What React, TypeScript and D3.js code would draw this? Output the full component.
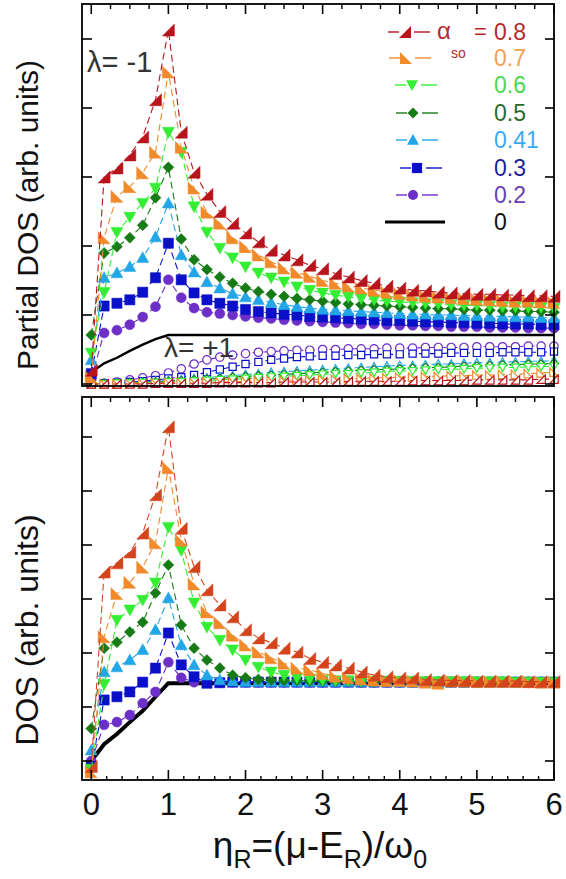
import React from 'react';
import * as d3 from 'd3';

// ---------- DATA ----------
const eta = [0, 0.167, 0.333, 0.5, 0.667, 0.833, 1, 1.167, 1.333, 1.5, 1.667, 1.833, 2, 2.167, 2.333, 2.5, 2.667, 2.833, 3, 3.167, 3.333, 3.5, 3.667, 3.833, 4, 4.167, 4.333, 4.5, 4.667, 4.833, 5, 5.167, 5.333, 5.5, 5.667, 5.833, 6];
const alphaLabels = ['0.8', '0.7', '0.6', '0.5', '0.41', '0.3', '0.2'];
const xTickLabels = ['0', '1', '2', '3', '4', '5', '6'];

// Partial DOS, lambda = -1 (filled markers)
const pMinus08 = [0.2, 3.0, 3.13, 3.32, 3.58, 4.12, 5.13, 3.65, 3.07, 2.75, 2.5, 2.33, 2.19, 2.06, 1.94, 1.87, 1.8, 1.72, 1.67, 1.6, 1.55, 1.5, 1.46, 1.42, 1.39, 1.36, 1.35, 1.33, 1.32, 1.31, 1.3, 1.3, 1.29, 1.29, 1.28, 1.28, 1.27];
const pMinus07 = [0.1, 2.12, 2.72, 2.86, 3.06, 3.36, 4.52, 3.43, 2.84, 2.49, 2.33, 2.12, 1.99, 1.87, 1.77, 1.68, 1.62, 1.56, 1.5, 1.46, 1.42, 1.39, 1.36, 1.33, 1.31, 1.29, 1.27, 1.26, 1.25, 1.24, 1.23, 1.22, 1.21, 1.2, 1.2, 1.19, 1.18];
const pMinus06 = [0.45, 1.33, 2.2, 2.42, 2.62, 2.84, 3.65, 3.36, 2.57, 2.2, 1.97, 1.83, 1.7, 1.61, 1.54, 1.48, 1.41, 1.36, 1.32, 1.29, 1.26, 1.24, 1.22, 1.2, 1.19, 1.18, 1.17, 1.16, 1.15, 1.14, 1.14, 1.13, 1.12, 1.12, 1.11, 1.11, 1.1];
const pMinus05 = [0.71, 1.9, 1.99, 2.12, 2.3, 2.7, 3.14, 2.1, 1.8, 1.66, 1.55, 1.46, 1.39, 1.34, 1.3, 1.27, 1.24, 1.22, 1.2, 1.18, 1.16, 1.15, 1.14, 1.13, 1.12, 1.11, 1.1, 1.09, 1.09, 1.08, 1.07, 1.07, 1.06, 1.06, 1.05, 1.05, 1.04];
const pMinus041 = [0.35, 1.54, 1.61, 1.7, 1.83, 2.13, 2.62, 1.87, 1.62, 1.48, 1.39, 1.31, 1.26, 1.22, 1.18, 1.15, 1.12, 1.1, 1.08, 1.07, 1.06, 1.05, 1.04, 1.03, 1.02, 1.01, 1.01, 1.0, 1.0, 0.99, 0.99, 0.98, 0.98, 0.97, 0.97, 0.96, 0.96];
const pMinus03 = [0.15, 1.13, 1.17, 1.22, 1.33, 1.54, 2.04, 1.51, 1.32, 1.22, 1.17, 1.13, 1.08, 1.05, 1.03, 1.01, 1.0, 0.98, 0.97, 0.96, 0.95, 0.94, 0.93, 0.92, 0.92, 0.91, 0.9, 0.9, 0.89, 0.89, 0.88, 0.88, 0.87, 0.87, 0.87, 0.86, 0.86];
const pMinus02 = [0.08, 0.74, 0.78, 0.86, 0.97, 1.12, 1.51, 1.25, 1.1, 1.04, 1.02, 1.0, 0.98, 0.96, 0.95, 0.93, 0.92, 0.91, 0.9, 0.89, 0.88, 0.87, 0.87, 0.86, 0.85, 0.85, 0.84, 0.84, 0.83, 0.83, 0.83, 0.82, 0.82, 0.82, 0.81, 0.81, 0.81];

// Partial DOS, lambda = +1 (open markers)
const pPlus08 = [0, 0, 0, 0, 0, 0.01, 0.01, 0.01, 0.01, 0.01, 0.02, 0.02, 0.02, 0.02, 0.02, 0.03, 0.03, 0.03, 0.03, 0.03, 0.04, 0.04, 0.04, 0.04, 0.04, 0.05, 0.05, 0.05, 0.05, 0.05, 0.06, 0.06, 0.06, 0.06, 0.06, 0.07, 0.07];
const pPlus07 = [0, 0, 0, 0.01, 0.01, 0.01, 0.02, 0.02, 0.02, 0.03, 0.03, 0.03, 0.04, 0.04, 0.05, 0.05, 0.06, 0.06, 0.07, 0.07, 0.08, 0.08, 0.09, 0.09, 0.1, 0.1, 0.11, 0.11, 0.12, 0.12, 0.13, 0.13, 0.14, 0.14, 0.15, 0.16, 0.17];
const pPlus06 = [0, 0, 0.01, 0.01, 0.02, 0.02, 0.03, 0.03, 0.04, 0.05, 0.06, 0.07, 0.08, 0.09, 0.1, 0.11, 0.12, 0.13, 0.14, 0.15, 0.15, 0.16, 0.17, 0.18, 0.19, 0.19, 0.2, 0.21, 0.21, 0.22, 0.23, 0.23, 0.24, 0.24, 0.25, 0.25, 0.26];
const pPlus05 = [0, 0.01, 0.01, 0.02, 0.02, 0.03, 0.04, 0.05, 0.06, 0.07, 0.08, 0.1, 0.11, 0.12, 0.13, 0.14, 0.15, 0.16, 0.17, 0.18, 0.19, 0.2, 0.21, 0.21, 0.22, 0.23, 0.24, 0.24, 0.25, 0.26, 0.26, 0.27, 0.28, 0.28, 0.29, 0.29, 0.3];
const pPlus041 = [0, 0.01, 0.01, 0.02, 0.03, 0.04, 0.05, 0.06, 0.08, 0.09, 0.11, 0.12, 0.14, 0.15, 0.17, 0.18, 0.19, 0.2, 0.21, 0.22, 0.23, 0.24, 0.25, 0.26, 0.27, 0.27, 0.28, 0.29, 0.29, 0.3, 0.31, 0.31, 0.32, 0.32, 0.33, 0.33, 0.34];
const pPlus03 = [0, 0.01, 0.02, 0.03, 0.04, 0.06, 0.08, 0.1, 0.13, 0.17, 0.21, 0.25, 0.29, 0.32, 0.35, 0.37, 0.39, 0.4, 0.41, 0.41, 0.42, 0.42, 0.43, 0.43, 0.43, 0.44, 0.44, 0.44, 0.45, 0.45, 0.45, 0.45, 0.46, 0.46, 0.46, 0.46, 0.47];
const pPlus02 = [0, 0.01, 0.03, 0.06, 0.09, 0.12, 0.16, 0.22, 0.29, 0.35, 0.39, 0.42, 0.44, 0.46, 0.47, 0.48, 0.49, 0.49, 0.5, 0.5, 0.51, 0.51, 0.51, 0.52, 0.52, 0.52, 0.53, 0.53, 0.53, 0.53, 0.54, 0.54, 0.54, 0.54, 0.55, 0.55, 0.55];

// alpha_so = 0 curves (solid black)
const blackEta = [0, 0.167, 0.333, 0.5, 0.667, 0.833, 1, 6];
const pBlack = [0.17, 0.3, 0.38, 0.48, 0.57, 0.65, 0.71, 0.71];
const dosBlack = [0.0, 0.31, 0.5, 0.72, 0.93, 1.19, 1.44, 1.44];

// total DOS
const dos08 = [-0.1, 3.5, 3.67, 3.87, 4.22, 4.93, 6.19, 4.31, 3.6, 3.17, 2.89, 2.67, 2.43, 2.28, 2.19, 2.09, 2.02, 1.9, 1.83, 1.78, 1.72, 1.65, 1.59, 1.56, 1.54, 1.54, 1.51, 1.5, 1.49, 1.49, 1.48, 1.48, 1.48, 1.48, 1.47, 1.47, 1.47];
const dos07 = [-0.2, 2.3, 3.1, 3.31, 3.59, 4.04, 5.43, 4.09, 3.28, 2.76, 2.56, 2.33, 2.15, 2.02, 1.91, 1.81, 1.72, 1.69, 1.62, 1.57, 1.54, 1.52, 1.5, 1.49, 1.49, 1.48, 1.46, 1.44, 1.48, 1.48, 1.47, 1.47, 1.47, 1.47, 1.47, 1.46, 1.46];
const dos06 = [-0.15, 1.42, 2.61, 2.8, 2.98, 3.3, 4.33, 3.9, 2.93, 2.48, 2.24, 2.06, 1.87, 1.74, 1.65, 1.59, 1.54, 1.52, 1.5, 1.49, 1.49, 1.48, 1.48, 1.48, 1.48, 1.48, 1.47, 1.47, 1.47, 1.47, 1.47, 1.47, 1.47, 1.46, 1.46, 1.46, 1.46];
const dos05 = [0.6, 2.09, 2.2, 2.39, 2.57, 3.11, 3.63, 2.52, 2.09, 1.87, 1.72, 1.59, 1.54, 1.51, 1.5, 1.49, 1.49, 1.48, 1.48, 1.48, 1.48, 1.47, 1.47, 1.47, 1.47, 1.47, 1.47, 1.47, 1.46, 1.46, 1.46, 1.46, 1.46, 1.46, 1.46, 1.46, 1.46];
const dos041 = [0.2, 1.65, 1.74, 1.87, 2.06, 2.43, 3.02, 2.15, 1.78, 1.59, 1.5, 1.48, 1.47, 1.47, 1.47, 1.47, 1.47, 1.47, 1.47, 1.47, 1.47, 1.47, 1.47, 1.47, 1.46, 1.46, 1.46, 1.46, 1.46, 1.46, 1.46, 1.46, 1.46, 1.46, 1.46, 1.46, 1.46];
const dos03 = [-0.1, 1.13, 1.19, 1.28, 1.46, 1.72, 2.37, 1.78, 1.56, 1.44, 1.45, 1.46, 1.46, 1.46, 1.46, 1.46, 1.46, 1.46, 1.46, 1.46, 1.46, 1.46, 1.46, 1.46, 1.46, 1.46, 1.46, 1.46, 1.46, 1.46, 1.46, 1.46, 1.46, 1.46, 1.46, 1.46, 1.46];
const dos02 = [0, 0.67, 0.72, 0.85, 1.07, 1.28, 1.83, 1.54, 1.46, 1.45, 1.45, 1.46, 1.46, 1.46, 1.46, 1.46, 1.46, 1.46, 1.46, 1.46, 1.46, 1.46, 1.46, 1.46, 1.46, 1.46, 1.46, 1.46, 1.46, 1.46, 1.46, 1.46, 1.46, 1.46, 1.46, 1.46, 1.46];

// ---------- STYLE ----------
const FONT = "'Liberation Sans', Arial, sans-serif";
type Shape = 'triBR' | 'triBL' | 'down' | 'diamond' | 'up' | 'square' | 'circle';
const seriesStyle: { shape: Shape; color: string; botColor: string; text: string }[] = [
  { shape: 'triBR', color: '#b8141c', botColor: '#d4441c', text: '#b52a2a' },
  { shape: 'triBL', color: '#f08a2a', botColor: '#f08a2a', text: '#f0a050' },
  { shape: 'down', color: '#33ee33', botColor: '#33ee33', text: '#4ad94a' },
  { shape: 'diamond', color: '#167a16', botColor: '#167a16', text: '#2c6a2c' },
  { shape: 'up', color: '#22a6e6', botColor: '#22a6e6', text: '#3aaaf0' },
  { shape: 'square', color: '#0a10c8', botColor: '#0a10c8', text: '#1e1e9a' },
  { shape: 'circle', color: '#6c2fc8', botColor: '#6c2fc8', text: '#6a40b0' },
];
const minusSeries = [pMinus08, pMinus07, pMinus06, pMinus05, pMinus041, pMinus03, pMinus02];
const plusSeries = [pPlus08, pPlus07, pPlus06, pPlus05, pPlus041, pPlus03, pPlus02];
const dosSeries = [dos08, dos07, dos06, dos05, dos041, dos03, dos02];

function markerPath(shape: Shape, r: number): string {
  switch (shape) {
    case 'triBR': return `M${r},${-r}L${r},${r}L${-r},${r}Z`;
    case 'triBL': return `M${-r},${-r}L${-r},${r}L${r},${r}Z`;
    case 'down': return `M${-r},${-0.8 * r}L${r},${-0.8 * r}L0,${r}Z`;
    case 'up': return `M0,${-r}L${r},${0.8 * r}L${-r},${0.8 * r}Z`;
    case 'diamond': return `M0,${-r}L${r},0L0,${r}L${-r},0Z`;
    case 'square': { const s = r * 0.85; return `M${-s},${-s}L${s},${-s}L${s},${s}L${-s},${s}Z`; }
    case 'circle': return `M${-r},0A${r},${r} 0 1,0 ${r},0A${r},${r} 0 1,0 ${-r},0Z`;
  }
  return '';
}

const xLeft = 82, xRight = 554;
const topP = { top: 4, bottom: 386 };
const botP = { top: 397, bottom: 780 };

export default function App() {
  const x = d3.scaleLinear().domain([-0.12, 6]).range([xLeft, xRight]);
  const yT = d3.scaleLinear().domain([0, 5]).range([384, 39]);
  const yB = d3.scaleLinear().domain([0, 6]).range([761, 437]);

  const lineT = d3.line<number>().x((_, i) => x(eta[i])).y(d => yT(d));
  const lineB = d3.line<number>().x((_, i) => x(eta[i])).y(d => yB(d));
  const blackT = d3.line<number>().x((_, i) => x(blackEta[i])).y(d => yT(d));
  const blackB = d3.line<number>().x((_, i) => x(blackEta[i])).y(d => yB(d));

  const majors = d3.range(0, 7, 1);
  const minors25 = d3.range(0, 6.001, 0.25).filter(v => Math.abs(v - Math.round(v)) > 1e-6);
  const minors20 = d3.range(0, 6.001, 0.2).filter(v => Math.abs(v - Math.round(v)) > 1e-6);

  const frame = (p: { top: number; bottom: number }) => (
    <rect x={xLeft} y={p.top} width={xRight - xLeft} height={p.bottom - p.top} fill="none" stroke="#000" strokeWidth={1.8} />
  );

  const drawSeries = (data: number[], line: any, idx: number, open: boolean, bottom: boolean, key: string) => {
    const st = seriesStyle[idx];
    const col = bottom ? st.botColor : st.color;
    const y = bottom ? yB : yT;
    const r = open ? 4.2 : (st.shape === 'circle' ? 5 : st.shape === 'diamond' ? 5.5 : 6);
    return (
      <g key={key}>
        <path d={line(data)} fill="none" stroke={col} strokeWidth={1.1} strokeDasharray="7,4" />
        {data.map((v, i) => (
          <path key={i} d={markerPath(st.shape, r)} transform={`translate(${x(eta[i])},${y(v)})`}
            fill={open ? '#fff' : col} stroke={col} strokeWidth={open ? 1.2 : 0.5} />
        ))}
      </g>
    );
  };

  const order = [6, 5, 4, 3, 2, 1, 0];

  const legendRows = [32, 58, 85, 113, 140, 168, 195];
  const legendMx = [405, 406, 412, 413, 413, 417, 413];

  return (
    <svg width={566} height={879} style={{ position: 'absolute', left: 0, top: 0, background: '#fff' }} fontFamily={FONT}>
      <rect x={0} y={0} width={566} height={879} fill="#fff" />

      {/* ---------- TOP PANEL ---------- */}
      {order.map(i => drawSeries(plusSeries[i], lineT, i, true, false, 'p' + i))}
      <path d={blackT(pBlack) || ''} fill="none" stroke="#000" strokeWidth={2.4} />
      {order.map(i => drawSeries(minusSeries[i], lineT, i, false, false, 'm' + i))}
      {frame(topP)}
      {majors.map(v => <line key={'tM' + v} x1={x(v)} x2={x(v)} y1={topP.top} y2={topP.top + 10} stroke="#000" strokeWidth={1.6} />)}
      {minors25.map(v => <line key={'tm' + v} x1={x(v)} x2={x(v)} y1={topP.top} y2={topP.top + 5} stroke="#000" strokeWidth={1.4} />)}
      {d3.range(0, 6).map(v => (
        <g key={'ty' + v}>
          <line x1={xLeft} x2={xLeft + 10} y1={yT(v)} y2={yT(v)} stroke="#000" strokeWidth={1.6} />
          <line x1={xRight - 9} x2={xRight} y1={yT(v)} y2={yT(v)} stroke="#000" strokeWidth={1.6} />
        </g>
      ))}
      <text x={87} y={72} fontSize={29} fill="#333">λ= -1</text>
      <text x={164} y={357} fontSize={28} fill="#333">λ= +1</text>

      {/* legend */}
      {seriesStyle.map((st, i) => {
        const mx = legendMx[i], ly = legendRows[i];
        const r = st.shape === 'circle' ? 5 : st.shape === 'diamond' ? 5.5 : 6;
        return (
          <g key={'lg' + i}>
            <line x1={mx - 17} x2={mx - 6} y1={ly} y2={ly} stroke={st.color} strokeWidth={1.4} />
            <line x1={mx + 9} x2={mx + 25} y1={ly} y2={ly} stroke={st.color} strokeWidth={1.4} />
            <path d={markerPath(st.shape, r)} transform={`translate(${mx},${ly})`} fill={st.color} />
            <text x={494} y={ly + 8} fontSize={23} fill={st.text}>{alphaLabels[i]}</text>
          </g>
        );
      })}
      <line x1={385} x2={445} y1={222} y2={222} stroke="#000" strokeWidth={3} />
      <text x={494} y={230} fontSize={23} fill="#111">0</text>
      <text x={437} y={39} fontSize={24} fill="#b52a2a">α</text>
      <text x={451} y={58} fontSize={14} fill="#b52a2a">so</text>
      <text x={474} y={39} fontSize={22} fill="#b52a2a">=</text>

      {/* ---------- BOTTOM PANEL ---------- */}
      <path d={blackB(dosBlack) || ''} fill="none" stroke="#000" strokeWidth={4} />
      {order.map(i => drawSeries(dosSeries[i], lineB, i, false, true, 'd' + i))}
      {frame(botP)}
      {majors.map(v => <line key={'bM' + v} x1={x(v)} x2={x(v)} y1={botP.top} y2={botP.top + 10} stroke="#000" strokeWidth={1.6} />)}
      {minors25.map(v => <line key={'bm' + v} x1={x(v)} x2={x(v)} y1={botP.top} y2={botP.top + 5} stroke="#000" strokeWidth={1.4} />)}
      {majors.map(v => <line key={'xM' + v} x1={x(v)} x2={x(v)} y1={botP.bottom} y2={botP.bottom - 10} stroke="#000" strokeWidth={1.6} />)}
      {minors20.map(v => <line key={'xm' + v} x1={x(v)} x2={x(v)} y1={botP.bottom} y2={botP.bottom - 4} stroke="#000" strokeWidth={1.4} />)}
      {d3.range(0, 7).map(v => (
        <g key={'by' + v}>
          <line x1={xLeft} x2={xLeft + 10} y1={yB(v)} y2={yB(v)} stroke="#000" strokeWidth={1.6} />
          <line x1={xRight - 9} x2={xRight} y1={yB(v)} y2={yB(v)} stroke="#000" strokeWidth={1.6} />
        </g>
      ))}

      {majors.map((v, i) => (
        <text key={'xl' + v} x={x(v)} y={815} fontSize={31} textAnchor="middle" fill="#111">{xTickLabels[i]}</text>
      ))}

      <text transform="translate(38,215) rotate(-90)" fontSize={30} textAnchor="middle" fill="#111">Partial DOS (arb. units)</text>
      <text transform="translate(38,630) rotate(-90)" fontSize={32} textAnchor="middle" fill="#111">DOS (arb. units)</text>

      <text x={320} y={858} fontSize={37} textAnchor="middle" fill="#111">
        <tspan>η</tspan>
        <tspan fontSize={25} dy={10}>R</tspan>
        <tspan dy={-10}>=(μ-E</tspan>
        <tspan fontSize={25} dy={10}>R</tspan>
        <tspan dy={-10}>)/ω</tspan>
        <tspan fontSize={25} dy={10}>0</tspan>
      </text>
    </svg>
  );
}
